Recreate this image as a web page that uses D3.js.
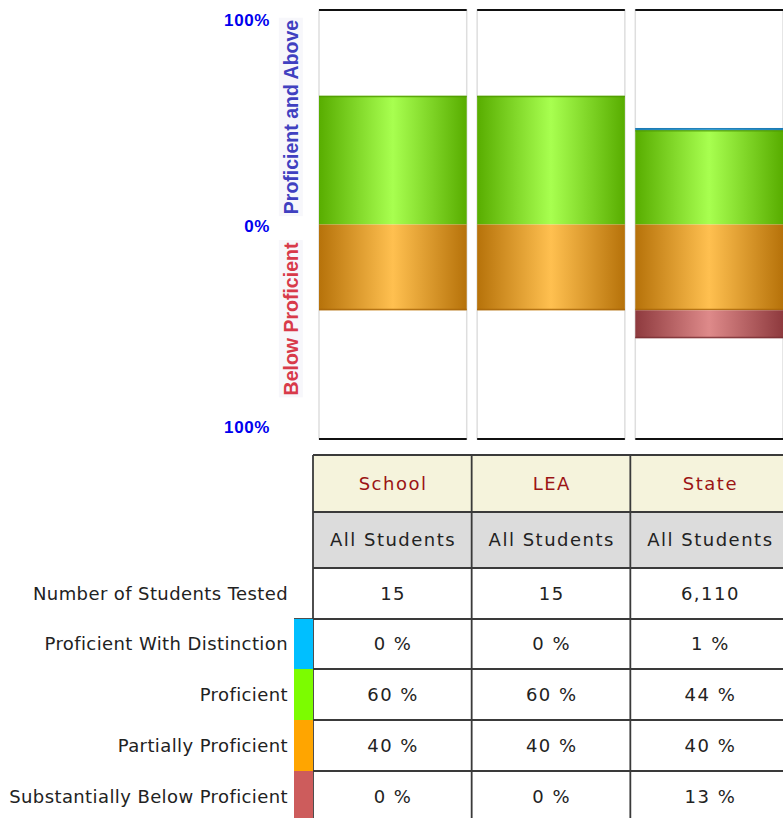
<!DOCTYPE html>
<html><head><meta charset="utf-8">
<script src="https://cdn.jsdelivr.net/npm/d3@7/dist/d3.min.js"></script>
<style>body{margin:0;background:#fff}svg{display:block}</style>
</head><body>
<svg id="c" width="783" height="818"></svg>
<script>
const categories = ["School", "LEA", "State"];
const groupLabels = ["All Students", "All Students", "All Students"];
const tested = ["15", "15", "6,110"];
const distinction = [0, 0, 1];
const proficient = [60, 60, 44];
const partially = [40, 40, 40];
const substantially = [0, 0, 13];
const levelNames = ["Proficient With Distinction", "Proficient", "Partially Proficient", "Substantially Below Proficient"];
const levelSwatches = ["#00bfff", "#7cfc00", "#ffa500", "#cd5c5c"];
const axisTicks = [{v:100,t:"100%"},{v:0,t:"0%"},{v:-100,t:"100%"}];

const svg = d3.select("#c");
const y = d3.scaleLinear().domain([100, -100]).range([10, 439]);
const x = d3.scaleBand().domain(categories).range([319, 783]).paddingInner(0.066);

const defs = svg.append("defs");
function grad(id, edge, mid){
  const g = defs.append("linearGradient").attr("id", id).attr("x1","0").attr("x2","1").attr("y1","0").attr("y2","0");
  g.append("stop").attr("offset","0").attr("stop-color", edge);
  g.append("stop").attr("offset","0.5").attr("stop-color", mid);
  g.append("stop").attr("offset","1").attr("stop-color", edge);
}
grad("gBlue", "#1f86c0", "#4fb8e8");
grad("gGreen", "#58ad00", "#a8ff50");
grad("gOrange", "#b6720a", "#ffc050");
grad("gRed", "#8e3a3e", "#de8a8a");

// column frames
const cols = svg.append("g");
categories.forEach(c => {
  const x0 = x(c), w = x.bandwidth();
  cols.append("rect").attr("x", x0).attr("y", y(100)).attr("width", w).attr("height", y(-100)-y(100))
    .attr("fill", "#fff").attr("stroke", "#dedede").attr("stroke-width", 1.5);
  cols.append("line").attr("x1", x0).attr("x2", x0+w).attr("y1", y(100)).attr("y2", y(100)).attr("stroke", "#111").attr("stroke-width", 2);
  cols.append("line").attr("x1", x0).attr("x2", x0+w).attr("y1", y(-100)).attr("y2", y(-100)).attr("stroke", "#111").attr("stroke-width", 2);
});

// segments
const segs = [];
categories.forEach((c, i) => {
  segs.push({c, y0: 0, y1: proficient[i], fill: "url(#gGreen)", line: "#4f9a00"});
  segs.push({c, y0: proficient[i], y1: proficient[i] + distinction[i], fill: "url(#gBlue)", line: "#1a78b0"});
  segs.push({c, y0: 0, y1: -partially[i], fill: "url(#gOrange)", line: "#a8660a"});
  segs.push({c, y0: -partially[i], y1: -partially[i] - substantially[i], fill: "url(#gRed)", line: "#7a3034"});
});
const bars = svg.append("g");
segs.filter(s => s.y0 !== s.y1).forEach(s => {
  const top = y(Math.max(s.y0, s.y1)), bot = y(Math.min(s.y0, s.y1));
  bars.append("rect").attr("x", x(s.c)).attr("y", top).attr("width", x.bandwidth()).attr("height", bot - top).attr("fill", s.fill);
  const edge = s.y1 > 0 ? top : bot;
  bars.append("line").attr("x1", x(s.c)).attr("x2", x(s.c)+x.bandwidth()).attr("y1", s.y1 > 0 ? edge+0.75 : edge-0.75).attr("y2", s.y1 > 0 ? edge+0.75 : edge-0.75)
    .attr("stroke", s.line).attr("stroke-width", 1.5).attr("opacity", 0.8);
});

// axis labels
svg.append("g").selectAll("text").data(axisTicks).join("text")
  .attr("x", 270).attr("y", d => y(d.v) + (d.v === 100 ? 10 : d.v === 0 ? 2 : -12)).attr("dy", "0.35em")
  .attr("text-anchor", "end").attr("font-family", "Liberation Sans, Arial, sans-serif").attr("font-weight", "bold")
  .attr("font-size", 17).attr("letter-spacing", 0.6).attr("fill", "#0000ee").text(d => d.t);

function vlabel(txt, cx, cy, color){
  const g = svg.append("g").attr("transform", `translate(${cx},${cy}) rotate(-90)`);
  const t = g.append("text").attr("text-anchor", "middle").attr("dy", "0.35em")
    .attr("font-family", "Liberation Sans, Arial, sans-serif").attr("font-weight", "bold").attr("font-size", 19.5)
    .attr("fill", color).text(txt);
  const bb = t.node().getBBox();
  g.insert("rect", "text").attr("x", bb.x - 2).attr("y", bb.y - 1).attr("width", bb.width + 4).attr("height", bb.height + 2).attr("fill", "#f7f7fb");
}
vlabel("Proficient and Above", 291, 117, "#4040c0");
vlabel("Below Proficient", 291, 319, "#d83a4a");

// table
const tx = d3.scaleBand().domain(categories).range([313, 789]);
const rowsY = [455, 512, 568, 619, 669, 720, 771, 822];
const font = "DejaVu Sans, Verdana, sans-serif";
const tbl = svg.append("g");
categories.forEach((c, i) => {
  tbl.append("rect").attr("x", tx(c)).attr("y", rowsY[0]).attr("width", tx.bandwidth()).attr("height", rowsY[1]-rowsY[0]).attr("fill", "#f5f3dc");
  tbl.append("rect").attr("x", tx(c)).attr("y", rowsY[1]).attr("width", tx.bandwidth()).attr("height", rowsY[2]-rowsY[1]).attr("fill", "#dcdcdc");
});
rowsY.forEach(yy => tbl.append("line").attr("x1", 313).attr("x2", 789).attr("y1", yy).attr("y2", yy).attr("stroke", "#3a3a3a").attr("stroke-width", 1.8));
categories.forEach(c => tbl.append("line").attr("x1", tx(c)).attr("x2", tx(c)).attr("y1", rowsY[0]).attr("y2", 818).attr("stroke", "#3a3a3a").attr("stroke-width", 1.8));
tbl.append("line").attr("x1", 294).attr("x2", 313).attr("y1", rowsY[3]).attr("y2", rowsY[3]).attr("stroke", "#3a3a3a").attr("stroke-width", 1.8);

const cellText = (c, row, txt, color) => tbl.append("text").attr("x", tx(c) + tx.bandwidth()/2 + 0.75).attr("y", (rowsY[row]+rowsY[row+1])/2)
  .attr("dy", "0.35em").attr("text-anchor", "middle").attr("font-family", font).attr("font-size", 18)
  .attr("letter-spacing", 1.5).attr("fill", color).text(txt);

categories.forEach((c, i) => {
  cellText(c, 0, c, "#9b1414");
  cellText(c, 1, groupLabels[i], "#222");
  cellText(c, 2, tested[i], "#222");
  cellText(c, 3, distinction[i] + " %", "#222");
  cellText(c, 4, proficient[i] + " %", "#222");
  cellText(c, 5, partially[i] + " %", "#222");
  cellText(c, 6, substantially[i] + " %", "#222");
});

const rowLabels = ["Number of Students Tested"].concat(levelNames);
rowLabels.forEach((t, r) => {
  const row = r + 2;
  tbl.append("text").attr("x", 288).attr("y", (rowsY[row]+rowsY[row+1])/2).attr("dy", "0.35em")
    .attr("text-anchor", "end").attr("font-family", font).attr("font-size", 18).attr("letter-spacing", 0.4)
    .attr("fill", "#222").text(t);
});
levelSwatches.forEach((col, i) => {
  const row = i + 3;
  tbl.append("rect").attr("x", 294).attr("y", rowsY[row]).attr("width", 19).attr("height", Math.min(rowsY[row+1], 818) - rowsY[row]).attr("fill", col);
});
</script>
</body></html>
